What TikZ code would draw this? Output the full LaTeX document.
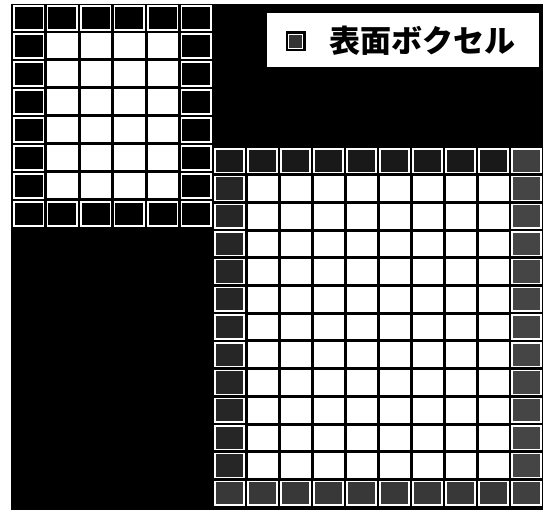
\documentclass[tikz,border=0pt]{standalone}
\usepackage{fontspec}
\newfontfamily\jpfont{Noto Sans CJK JP}
\usetikzlibrary{positioning}

\tikzset{
  whitecell/.style={fill=white},
  smallvox/.style={draw=white, line width=1.1pt, fill=black},
  bigvox/.style={draw=white, line width=1.4pt},
}

\begin{document}
\begin{tikzpicture}[x=1pt, y=-1pt]

    \useasboundingbox (0,0) rectangle (543,510);
    \fill[black] (11,4) rectangle (543,510);

    % small block: 6 x 8 cells
    \foreach \i in {1,...,4}
      \foreach \j in {1,...,6}
        \fill[whitecell] ({12+\i*33.5+1.5},{4+\j*28+1.5}) rectangle ({12+(\i+1)*33.5-1.5},{4+(\j+1)*28-1.5});
    \foreach \i in {0,...,5} {
        \draw[smallvox] ({12+\i*33.5+2},{4+2}) rectangle ({12+(\i+1)*33.5-2},{4+28-2});
        \draw[smallvox] ({12+\i*33.5+2},{4+7*28+2}) rectangle ({12+(\i+1)*33.5-2},{4+8*28-2});
    }
    \foreach \j in {1,...,6} {
        \draw[smallvox] ({12+2},{4+\j*28+2}) rectangle ({12+33.5-2},{4+(\j+1)*28-2});
        \draw[smallvox] ({12+5*33.5+2},{4+\j*28+2}) rectangle ({12+6*33.5-2},{4+(\j+1)*28-2});
    }

    % large block: 10 x 13 cells
    \foreach \i in {1,...,8}
      \foreach \j in {1,...,11}
        \fill[whitecell] ({213+\i*33+1.5},{147+\j*27.7+1.5}) rectangle ({213+(\i+1)*33-1.5},{147+(\j+1)*27.7-1.5});
    \foreach \i in {0,...,8} {
        \draw[bigvox, fill=black!90] ({213+\i*33+2},{147+2}) rectangle ({213+(\i+1)*33-2},{147+27.7-2});
        \draw[bigvox, fill=black!78] ({213+\i*33+2},{147+12*27.7+2}) rectangle ({213+(\i+1)*33-2},{147+13*27.7-2});
    }
    \draw[bigvox, fill=black!75] ({213+9*33+2},{147+2}) rectangle ({213+10*33-2},{147+27.7-2});
    \draw[bigvox, fill=black!75] ({213+9*33+2},{147+12*27.7+2}) rectangle ({213+10*33-2},{147+13*27.7-2});
    \foreach \j in {1,...,11} {
        \draw[bigvox, fill=black!85] ({213+2},{147+\j*27.7+2}) rectangle ({213+33-2},{147+(\j+1)*27.7-2});
        \draw[bigvox, fill=black!73] ({213+9*33+2},{147+\j*27.7+2}) rectangle ({213+10*33-2},{147+(\j+1)*27.7-2});
    }

    % legend
    \node[fill=white, minimum width=272pt, minimum height=54pt, inner sep=0] (legend) at (403,40.5) {};
    \node[inner sep=0, font=\jpfont\bfseries\fontsize{31}{31}\selectfont] (label) at (422,41) {表面ボクセル};
    \node[fill=black, minimum size=20pt, inner sep=0, left=23pt of label] (icon) {};
    \node[draw=white, fill=black!80, line width=0.8pt, minimum size=14pt, inner sep=0] (iconin) at (icon) {};

\end{tikzpicture}
\end{document}
